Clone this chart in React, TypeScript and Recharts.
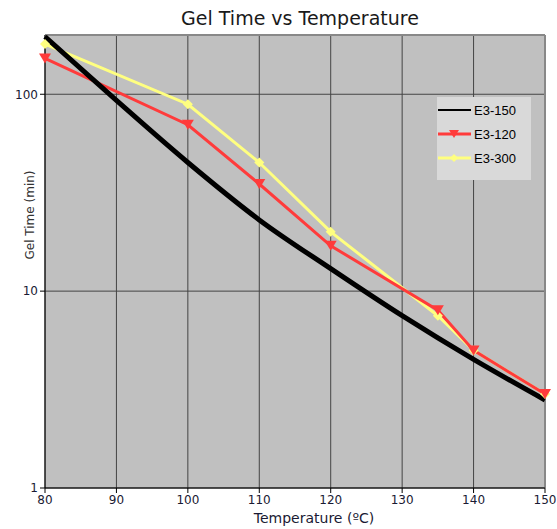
import {
  LineChart,
  Line,
  XAxis,
  YAxis,
  CartesianGrid,
  ReferenceLine,
  Label,
} from 'recharts'

// E3-150: fitted curve
const tempsE3_150 = [80, 90, 100, 110, 120, 130, 140, 150]
const gelE3_150 = [196, 93, 45, 23, 13, 7.5, 4.5, 2.8]

// E3-120
const tempsE3_120 = [80, 100, 110, 120, 135, 140, 150]
const gelE3_120 = [152, 70, 35, 17, 8, 5, 3]

// E3-300
const tempsE3_300 = [80, 100, 110, 120, 135, 140, 150]
const gelE3_300 = [180, 89, 45, 20, 7.5, 5, 3]

const xTicks = [80, 90, 100, 110, 120, 130, 140, 150]
const yTicks = [1, 10, 100]

const toRows = (xs: number[], ys: number[]) => xs.map((x, i) => ({ temp: x, gel: ys[i] }))

const data150 = toRows(tempsE3_150, gelE3_150)
const data120 = toRows(tempsE3_120, gelE3_120)
const data300 = toRows(tempsE3_300, gelE3_300)

const RED = '#ff3b3b'
const YELLOW = '#ffff80'
const FONT = 'DejaVu Sans, Verdana, sans-serif'

function TriangleDot(props: any) {
  const { cx, cy } = props
  if (cx == null || cy == null) return null
  return <path d={`M${cx - 6},${cy - 5} L${cx + 6},${cy - 5} L${cx},${cy + 5} Z`} fill={RED} />
}

function DiamondDot(props: any) {
  const { cx, cy } = props
  if (cx == null || cy == null) return null
  return <path d={`M${cx},${cy - 5} L${cx + 5},${cy} L${cx},${cy + 5} L${cx - 5},${cy} Z`} fill={YELLOW} />
}

function LegendBox() {
  const items = [
    { name: 'E3-150', color: '#000', w: 2, marker: null as null | string },
    { name: 'E3-120', color: RED, w: 3, marker: 'tri' },
    { name: 'E3-300', color: YELLOW, w: 3, marker: 'dia' },
  ]
  return (
    <svg width={94} height={83} style={{ position: 'absolute', left: 437, top: 97 }}>
      <rect x={0} y={0} width={94} height={83} fill="#d9d9d9" />
      {items.map((it, i) => {
        const y = 13 + i * 24
        return (
          <g key={it.name}>
            <line x1={1} x2={34} y1={y} y2={y} stroke={it.color} strokeWidth={it.w} />
            {it.marker === 'tri' && (
              <path d={`M${17 - 5},${y - 4} L${17 + 5},${y - 4} L17,${y + 4} Z`} fill={RED} />
            )}
            {it.marker === 'dia' && (
              <path d={`M17,${y - 4} L21,${y} L17,${y + 4} L13,${y} Z`} fill={YELLOW} />
            )}
            <text x={37} y={y + 5} fontSize={13} fontFamily="Liberation Sans, Arial, sans-serif" fill="#000">
              {it.name}
            </text>
          </g>
        )
      })}
    </svg>
  )
}

export default function App() {
  return (
    <div style={{ position: 'absolute', left: 0, top: 0, width: 557, height: 529, background: '#fff' }}>
      <LineChart width={557} height={529} margin={{ top: 35, right: 12, bottom: 11, left: 0 }}>
        <CartesianGrid fill="#c0c0c0" stroke="#444" strokeWidth={1} />
        <XAxis
          type="number"
          dataKey="temp"
          domain={[80, 150]}
          ticks={xTicks}
          height={30}
          tickSize={5}
          tick={{ fontSize: 12, fill: '#1a1a33', fontFamily: FONT }}
          axisLine={{ stroke: '#000' }}
          tickLine={{ stroke: '#000' }}
        >
          <Label
            content={() => (
              <text x={314} y={523} textAnchor="middle" fontSize={14} fontFamily={FONT} fill="#1a1a33">
                Temperature (ºC)
              </text>
            )}
          />
        </XAxis>
        <YAxis
          scale="log"
          domain={[1, 200]}
          allowDataOverflow
          ticks={yTicks}
          width={45}
          tickSize={5}
          tick={{ fontSize: 12, fill: '#1a1a33', fontFamily: FONT }}
          axisLine={{ stroke: '#000' }}
          tickLine={{ stroke: '#000' }}
        >
          <Label
            content={() => (
              <text
                x={34}
                y={215}
                transform="rotate(-90 34 215)"
                textAnchor="middle"
                fontSize={12}
                fontFamily={FONT}
                fill="#333"
              >
                Gel Time (min)
              </text>
            )}
          />
        </YAxis>
        <ReferenceLine y={200} stroke="#888" strokeWidth={2} />
        <ReferenceLine x={150} stroke="#888" strokeWidth={2} />
        <Line
          data={data300}
          dataKey="gel"
          name="E3-300"
          type="linear"
          stroke={YELLOW}
          strokeWidth={3}
          dot={<DiamondDot />}
          isAnimationActive={false}
        />
        <Line
          data={data120}
          dataKey="gel"
          name="E3-120"
          type="linear"
          stroke={RED}
          strokeWidth={3}
          dot={<TriangleDot />}
          isAnimationActive={false}
        />
        <Line
          data={data150}
          dataKey="gel"
          name="E3-150"
          type="monotone"
          stroke="#000"
          strokeWidth={5}
          dot={false}
          isAnimationActive={false}
        />
      </LineChart>
      <div
        style={{
          position: 'absolute',
          left: 0,
          top: 7,
          width: 600,
          textAlign: 'center',
          fontFamily: FONT,
          fontSize: 19,
          color: '#1a1a1a',
        }}
      >
        Gel Time vs Temperature
      </div>
      <LegendBox />
    </div>
  )
}
